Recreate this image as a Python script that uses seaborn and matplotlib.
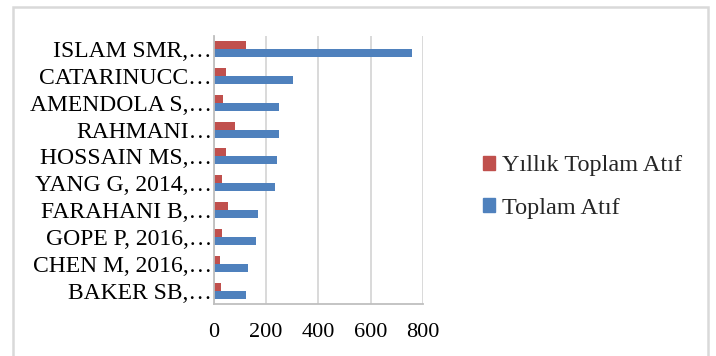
import matplotlib
matplotlib.use("Agg")
import matplotlib.pyplot as plt
import matplotlib.patches as mpatches
import numpy as np
import pandas as pd
import seaborn as sns

# Citation counts per publication
authors = ["ISLAM SMR,…", "CATARINUCC…", "AMENDOLA S,…", "RAHMANI…",
           "HOSSAIN MS,…", "YANG G, 2014,…", "FARAHANI B,…",
           "GOPE P, 2016,…", "CHEN M, 2016,…", "BAKER SB,…"]
yearly_citations = [124, 49, 35, 82, 46, 31, 57, 31, 25, 30]
total_citations = [759, 302, 251, 251, 244, 235, 171, 162, 132, 125]
series_names = ["Yıllık Toplam Atıf", "Toplam Atıf"]
x_ticks = [0, 200, 400, 600, 800]

df = pd.DataFrame({
    "Yayın": authors * 2,
    "Atıf": yearly_citations + total_citations,
    "Seri": [series_names[0]] * len(authors) + [series_names[1]] * len(authors),
})

sns.set_theme(style="white")
plt.rcParams["font.family"] = ["Liberation Serif", "DejaVu Serif"]

W, H = 716, 356
fig = plt.figure(figsize=(W / 100, H / 100), dpi=100)
ax = fig.add_axes([213.5 / W, 1 - 304 / H, (423 - 213.5) / W, (304 - 35.7) / H])

palette = {series_names[0]: "#c0504d", series_names[1]: "#4f81bd"}
sns.barplot(data=df, y="Yayın", x="Atıf", hue="Seri", hue_order=series_names,
            order=authors, palette=palette, orient="h", width=0.6,
            saturation=1, ax=ax, legend=False, edgecolor="none")

ax.set_xlim(0, 800)
ax.set_ylim(len(authors) - 0.5, -0.5)
ax.set_xlabel("")
ax.set_ylabel("")

# Gridlines and axes styling
ax.set_xticks(x_ticks)
ax.set_xticklabels([str(t) for t in x_ticks], fontsize=16)
ax.xaxis.grid(True, color="#d9d9d9", linewidth=1.4)
ax.set_axisbelow(True)
for side in ("top", "right"):
    ax.spines[side].set_visible(False)
for side in ("left", "bottom"):
    ax.spines[side].set_color("#bfbfbf")
    ax.spines[side].set_linewidth(1.3)

ax.tick_params(axis="x", which="major", direction="out", length=5,
               color="#bfbfbf", width=1.3, pad=9, labelcolor="black")
ax.set_yticks(range(len(authors)))
ax.set_yticklabels(authors, fontsize=17)
ax.tick_params(axis="y", which="major", length=0, pad=1, labelcolor="black")
ax.set_yticks(np.arange(-0.5, len(authors), 1.0), minor=True)
ax.tick_params(axis="y", which="minor", direction="out", length=5,
               color="#bfbfbf", width=1.3)
ax.tick_params(axis="x", which="minor", length=0)

# Legend
handles = [mpatches.Patch(color=palette[s], label=s) for s in series_names]
fig.legend(handles=handles, loc="center left",
           bbox_to_anchor=(483 / W, 1 - 187 / H), frameon=False,
           fontsize=17.5, handlelength=0.5, handleheight=0.5,
           handletextpad=0.3, labelspacing=0.87,
           borderpad=0, borderaxespad=0)

# Chart frame
frame = mpatches.Rectangle((13 / W, -0.1), (708 - 13) / W, 1.1 - 7 / H,
                           transform=fig.transFigure, fill=False,
                           edgecolor="#d9d9d9", linewidth=1.8)
fig.patches.append(frame)

fig.savefig("out.png", dpi=100)
